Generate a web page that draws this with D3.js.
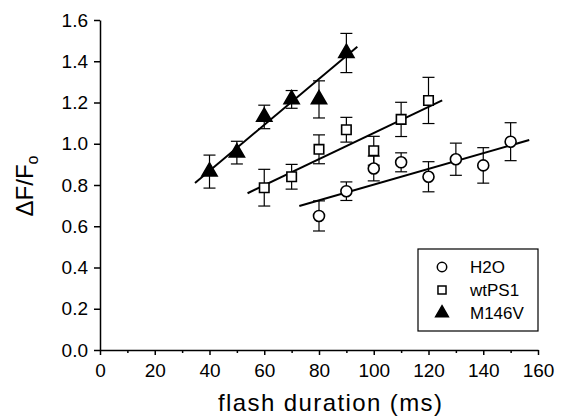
<!DOCTYPE html>
<html>
<head>
<meta charset="utf-8">
<script src="https://cdn.jsdelivr.net/npm/d3@7"></script>
<style>
  body { margin: 0; background: #fff; }
  svg { font-family: "Liberation Sans", Arial, sans-serif; }
</style>
</head>
<body>
<div id="chart"></div>
<script>
// Data
var h2oX = [80, 90, 100, 110, 120, 130, 140, 150];
var h2oY = [0.65, 0.77, 0.88, 0.91, 0.84, 0.925, 0.895, 1.01];
var h2oErr = [0.073, 0.045, 0.06, 0.046, 0.073, 0.078, 0.086, 0.092];

var ps1X = [60, 70, 80, 90, 100, 110, 120];
var ps1Y = [0.787, 0.84, 0.973, 1.068, 0.966, 1.118, 1.21];
var ps1Err = [0.089, 0.06, 0.07, 0.06, 0.07, 0.083, 0.112];

var m146X = [40, 50, 60, 70, 80, 90];
var m146Y = [0.865, 0.957, 1.13, 1.215, 1.215, 1.44];
var m146Err = [0.08, 0.055, 0.057, 0.043, 0.09, 0.095];

// linear fit end points
var h2oFitX = [72.8, 156.8], h2oFitY = [0.698, 1.018];
var ps1FitX = [53.9, 125], ps1FitY = [0.76, 1.21];
var m146FitX = [34.7, 94], m146FitY = [0.81, 1.47];

var xTicks = [0, 20, 40, 60, 80, 100, 120, 140, 160];
var xMinor = [10, 30, 50, 70, 90, 110, 130, 150];
var yTicks = [0, 0.2, 0.4, 0.6, 0.8, 1.0, 1.2, 1.4, 1.6];

var seriesNames = ["H2O", "wtPS1", "M146V"];

var width = 569, height = 419;

var svg = d3.select("#chart").append("svg")
  .attr("width", width)
  .attr("height", height);

var x = d3.scaleLinear().domain([0, 160]).range([100, 538]);
var y = d3.scaleLinear().domain([0, 1.6]).range([350, 20]);

// Axes
svg.append("g")
  .attr("transform", "translate(0,350)")
  .call(d3.axisBottom(x).tickValues(xTicks).tickFormat(d3.format("d"))
    .tickSizeInner(5).tickSizeOuter(0).tickPadding(9));
svg.append("g")
  .attr("transform", "translate(0,350)")
  .call(d3.axisBottom(x).tickValues(xMinor).tickFormat("")
    .tickSizeInner(3).tickSizeOuter(0))
  .call(g => g.select(".domain").remove());

svg.append("g")
  .attr("transform", "translate(100,0)")
  .call(d3.axisLeft(y).tickValues(yTicks).tickFormat(d3.format(".1f"))
    .tickSizeInner(6).tickSizeOuter(0).tickPadding(6));

svg.selectAll(".tick line, .domain")
  .attr("stroke", "#000")
  .attr("stroke-width", 1.5);
svg.selectAll(".tick text")
  .attr("fill", "#000")
  .attr("font-size", 19)
  .attr("font-family", "Liberation Sans, Arial, sans-serif");

// Axis titles
svg.append("text")
  .attr("x", 330)
  .attr("y", 411)
  .attr("text-anchor", "middle")
  .attr("font-size", 24)
  .attr("textLength", 224)
  .attr("lengthAdjust", "spacing")
  .text("flash duration (ms)");

var yTitle = svg.append("text")
  .attr("transform", "translate(33,186) rotate(-90)")
  .attr("text-anchor", "middle")
  .attr("font-size", 24);
yTitle.append("tspan").text("\u0394F/F");
yTitle.append("tspan").attr("font-size", 16).attr("dy", 5).text("o");

// Fit lines
function fitLine(xs, ys) {
  svg.append("line")
    .attr("x1", x(xs[0])).attr("y1", y(ys[0]))
    .attr("x2", x(xs[1])).attr("y2", y(ys[1]))
    .attr("stroke", "#000")
    .attr("stroke-width", 2);
}
fitLine(h2oFitX, h2oFitY);
fitLine(ps1FitX, ps1FitY);
fitLine(m146FitX, m146FitY);

// Error bars
function errorBars(xs, ys, es) {
  var g = svg.append("g").attr("stroke", "#000").attr("stroke-width", 1.2);
  xs.forEach(function(xv, i) {
    var cx = x(xv), top = y(ys[i] + es[i]), bot = y(ys[i] - es[i]);
    g.append("line").attr("x1", cx).attr("x2", cx).attr("y1", top).attr("y2", bot);
    g.append("line").attr("x1", cx - 6).attr("x2", cx + 6).attr("y1", top).attr("y2", top);
    g.append("line").attr("x1", cx - 6).attr("x2", cx + 6).attr("y1", bot).attr("y2", bot);
  });
}
errorBars(h2oX, h2oY, h2oErr);
errorBars(ps1X, ps1Y, ps1Err);
errorBars(m146X, m146Y, m146Err);

// Markers
var circleSym = d3.symbol().type(d3.symbolCircle).size(95);
var squareSym = d3.symbol().type(d3.symbolSquare).size(90);
var triSym = d3.symbol().type(d3.symbolTriangle).size(100);

function markers(xs, ys, sym, filled) {
  svg.append("g").selectAll("path")
    .data(xs)
    .join("path")
    .attr("d", sym)
    .attr("transform", (d, i) => `translate(${x(d)},${y(ys[i])})`)
    .attr("fill", filled ? "#000" : "#fff")
    .attr("stroke", "#000")
    .attr("stroke-width", 1.6);
}
markers(h2oX, h2oY, circleSym, false);
markers(ps1X, ps1Y, squareSym, false);
markers(m146X, m146Y, triSym, true);

// Legend
var legend = svg.append("g");
legend.append("rect")
  .attr("x", 418).attr("y", 249)
  .attr("width", 120).attr("height", 82)
  .attr("fill", "#fff")
  .attr("stroke", "#000")
  .attr("stroke-width", 1.2);

var legSyms = [
  { sym: d3.symbol().type(d3.symbolCircle).size(70), filled: false },
  { sym: d3.symbol().type(d3.symbolSquare).size(65), filled: false },
  { sym: d3.symbol().type(d3.symbolTriangle).size(70), filled: true }
];
seriesNames.forEach(function(name, i) {
  var ly = 267 + i * 23;
  legend.append("path")
    .attr("d", legSyms[i].sym)
    .attr("transform", `translate(442,${ly})`)
    .attr("fill", legSyms[i].filled ? "#000" : "#fff")
    .attr("stroke", "#000")
    .attr("stroke-width", 1.5);
  legend.append("text")
    .attr("x", 470)
    .attr("y", ly + 6)
    .attr("font-size", 17)
    .text(name);
});
</script>
</body>
</html>
